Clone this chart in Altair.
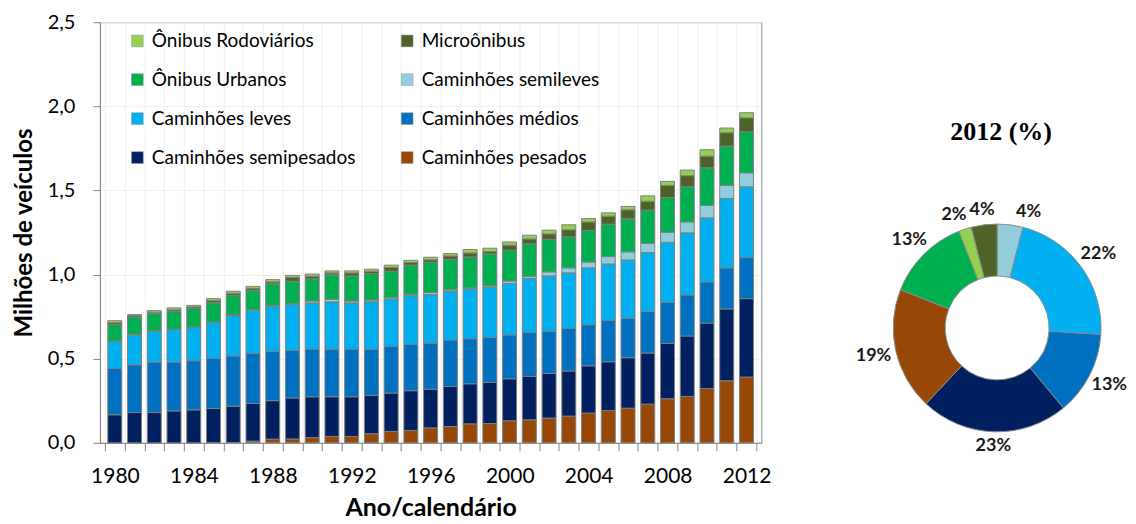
import altair as alt
import pandas as pd

years = list(range(1980, 2013))

pesados = [0.000, 0.000, 0.000, 0.000, 0.000, 0.001, 0.002, 0.010, 0.022, 0.023, 0.031,
           0.038, 0.038, 0.054, 0.068, 0.074, 0.089, 0.097, 0.113, 0.115, 0.131, 0.137,
           0.147, 0.159, 0.177, 0.192, 0.206, 0.230, 0.262, 0.276, 0.323, 0.369, 0.391]
semipesados = [0.167, 0.180, 0.180, 0.190, 0.196, 0.203, 0.216, 0.224, 0.229, 0.244, 0.243,
               0.236, 0.236, 0.228, 0.228, 0.236, 0.230, 0.238, 0.238, 0.244, 0.250, 0.258,
               0.266, 0.268, 0.281, 0.290, 0.300, 0.304, 0.329, 0.359, 0.389, 0.427, 0.466]
medios = [0.275, 0.284, 0.300, 0.290, 0.292, 0.299, 0.299, 0.299, 0.292, 0.282, 0.283,
          0.283, 0.283, 0.275, 0.277, 0.275, 0.274, 0.276, 0.268, 0.268, 0.260, 0.262,
          0.250, 0.254, 0.244, 0.246, 0.234, 0.246, 0.244, 0.244, 0.244, 0.244, 0.244]
leves = [0.161, 0.177, 0.183, 0.193, 0.198, 0.213, 0.239, 0.254, 0.267, 0.274, 0.274,
         0.281, 0.274, 0.282, 0.282, 0.290, 0.288, 0.288, 0.296, 0.298, 0.307, 0.321,
         0.329, 0.329, 0.338, 0.335, 0.347, 0.351, 0.357, 0.369, 0.381, 0.412, 0.421]
semileves = [0.002, 0.002, 0.002, 0.002, 0.002, 0.002, 0.004, 0.004, 0.005, 0.005, 0.012,
             0.015, 0.012, 0.010, 0.008, 0.008, 0.012, 0.010, 0.006, 0.008, 0.014, 0.012,
             0.024, 0.030, 0.035, 0.044, 0.048, 0.054, 0.060, 0.065, 0.074, 0.078, 0.083]
urbanos = [0.097, 0.105, 0.103, 0.105, 0.112, 0.115, 0.117, 0.116, 0.130, 0.132, 0.132,
           0.146, 0.149, 0.157, 0.157, 0.173, 0.180, 0.180, 0.184, 0.190, 0.183, 0.193,
           0.192, 0.184, 0.187, 0.193, 0.196, 0.198, 0.206, 0.209, 0.224, 0.234, 0.244]
microonibus = [0.012, 0.008, 0.008, 0.010, 0.008, 0.012, 0.012, 0.011, 0.012, 0.023, 0.015,
               0.011, 0.018, 0.014, 0.022, 0.016, 0.015, 0.022, 0.024, 0.014, 0.030, 0.029,
               0.034, 0.042, 0.051, 0.047, 0.054, 0.053, 0.072, 0.066, 0.069, 0.079, 0.083]
rodoviarios = [0.012, 0.006, 0.010, 0.012, 0.009, 0.012, 0.012, 0.012, 0.013, 0.012, 0.013,
               0.012, 0.012, 0.012, 0.014, 0.013, 0.015, 0.014, 0.020, 0.020, 0.019, 0.022,
               0.022, 0.030, 0.020, 0.020, 0.020, 0.032, 0.024, 0.033, 0.038, 0.028, 0.030]

# stacking order, bottom to top
series_names = ["Caminhões pesados", "Caminhões semipesados", "Caminhões médios",
                "Caminhões leves", "Caminhões semileves", "Ônibus Urbanos",
                "Microônibus", "Ônibus Rodoviários"]
series_values = [pesados, semipesados, medios, leves, semileves, urbanos,
                 microonibus, rodoviarios]
series_colors = ["#974806", "#002060", "#0070C0", "#00B0F0", "#92CDDC", "#00B050",
                 "#4F6228", "#92D050"]

# legend order (two columns, filled column by column)
legend_order = ["Ônibus Rodoviários", "Ônibus Urbanos", "Caminhões leves",
                "Caminhões semipesados", "Microônibus", "Caminhões semileves",
                "Caminhões médios", "Caminhões pesados"]

# donut 2012 (%), clockwise from 12 o'clock
pie_names = ["Caminhões semileves", "Caminhões leves", "Caminhões médios",
             "Caminhões semipesados", "Caminhões pesados", "Ônibus Urbanos",
             "Ônibus Rodoviários", "Microônibus"]
pie_pct = [4, 22, 13, 23, 19, 13, 2, 4]

rows = []
for i, (name, vals) in enumerate(zip(series_names, series_values)):
    for yr, v in zip(years, vals):
        rows.append({"ano": yr, "serie": name, "valor": v, "ordem": i})
df = pd.DataFrame(rows)

color_of = dict(zip(series_names, series_colors))
color_scale = alt.Scale(domain=legend_order, range=[color_of[n] for n in legend_order])

FONT = "Lato"
W, H = 662, 421
BAND = W / 33.0
AXIS_GRAY = "#868686"

x_ticks = [1979.5 + i for i in range(34)]

bars = alt.Chart(df).mark_bar(size=14, stroke="#7f7f7f", strokeWidth=1).encode(
    x=alt.X("ano:Q",
            scale=alt.Scale(domain=[1979.5, 2012.5], nice=False, zero=False),
            axis=alt.Axis(values=x_ticks,
                          labelExpr="(datum.value + 0.5 - 1980) % 4 == 0 ? format(datum.value + 0.5, 'd') : ''",
                          labelOffset=BAND / 2, labelFlush=False, labelOverlap=False,
                          labelBound=False,
                          tickSize=8, tickColor=AXIS_GRAY, domainColor=AXIS_GRAY,
                          grid=True, gridColor="#efefef",
                          labelFont=FONT, labelFontSize=21, labelColor="#000000",
                          labelPadding=15,
                          title="Ano/calendário", titleFont=FONT, titleFontSize=25,
                          titleFontWeight="bold", titleColor="#000000", titlePadding=9)),
    y=alt.Y("valor:Q", stack="zero",
            scale=alt.Scale(domain=[0, 2.5], nice=False),
            axis=alt.Axis(values=[0, 0.5, 1.0, 1.5, 2.0, 2.5],
                          labelExpr="replace(format(datum.value, '.1f'), '.', ',')",
                          tickSize=7, tickColor=AXIS_GRAY, domainColor=AXIS_GRAY,
                          grid=True, gridColor="#efefef",
                          labelFont=FONT, labelFontSize=20, labelColor="#000000",
                          labelPadding=18,
                          title="Milhões de veículos", titleFont=FONT, titleFontSize=24,
                          titleFontWeight="bold", titleColor="#000000", titlePadding=11)),
    color=alt.Color("serie:N", scale=color_scale,
                    legend=alt.Legend(title=None, orient="none", legendX=28, legendY=9,
                                      columns=2, symbolType="square", symbolSize=140,
                                      symbolStrokeWidth=0.5, symbolStrokeColor="#9a9a9a",
                                      labelFont=FONT, labelFontSize=19, labelColor="#000000",
                                      labelLimit=400, rowPadding=19, columnPadding=42,
                                      padding=0, labelOffset=5)),
    order=alt.Order("ordem:Q", sort="ascending"),
).properties(width=W, height=H,
             view=alt.ViewBackground(stroke=AXIS_GRAY, strokeWidth=1))

pie_df = pd.DataFrame({"fatia": pie_names, "pct": pie_pct,
                       "ord": list(range(len(pie_names))),
                       "rotulo": [f"{p}%" for p in pie_pct]})
pie_scale = alt.Scale(domain=series_names, range=series_colors)

PW, PH = 330, H
CX, CY = 214, 306

arcs = alt.Chart(pie_df).mark_arc(innerRadius=52, outerRadius=104, stroke="#8c8c8c",
                                  strokeWidth=1).encode(
    theta=alt.Theta("pct:Q", stack=True),
    order=alt.Order("ord:Q", sort="ascending"),
    color=alt.Color("fatia:N", scale=pie_scale, legend=None),
    x=alt.value(CX), y=alt.value(CY),
)

# data labels placed just outside the ring, at each slice's middle angle;
# the small first/last labels at the top are spread apart to avoid overlap
labels = alt.Chart(pie_df).transform_window(
    cum="sum(pct)", sort=[alt.SortField("ord", order="ascending")]
).transform_calculate(
    ang="(datum.cum - datum.pct / 2) / 100 * 2 * PI"
        " + (datum.ord == 0 ? 0.14 : 0) + (datum.ord == 6 ? -0.05 : 0)",
    rr="118 + 9 * abs(sin(datum.ang))",
    px=f"{CX} + datum.rr * sin(datum.ang)",
    py=f"{CY} - datum.rr * cos(datum.ang)",
).mark_text(font=FONT, fontSize=18, fontWeight="bold", color="#1a1a1a").encode(
    x=alt.X("px:Q", scale=None),
    y=alt.Y("py:Q", scale=None),
    text="rotulo:N",
)

title_df = pd.DataFrame({"t": ["2012 (%)"]})
pie_title = alt.Chart(title_df).mark_text(font="Liberation Serif", fontSize=26,
                                          fontWeight="bold", color="#000000").encode(
    text="t:N", x=alt.value(CX + 4), y=alt.value(110),
)
pie = alt.layer(arcs, labels, pie_title).properties(
    width=PW, height=PH, view=alt.ViewBackground(stroke="transparent"))

chart = alt.hconcat(bars, pie, spacing=10).resolve_scale(
    color="independent", theta="independent", x="independent", y="independent"
).properties(
    padding={"left": 3, "top": 3, "right": 0, "bottom": 0}
).configure_view(stroke="transparent")

chart.save("out.html", embed_options={"renderer": "svg", "actions": False})
